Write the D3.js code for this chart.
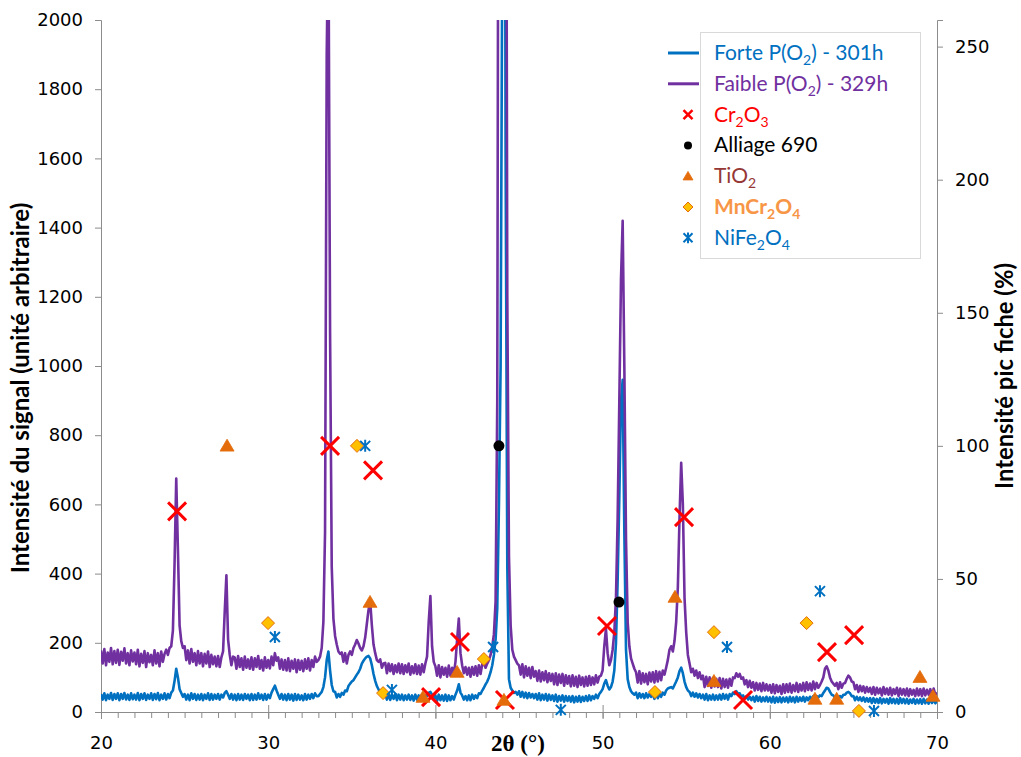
<!DOCTYPE html>
<html><head><meta charset="utf-8">
<script src="https://cdn.jsdelivr.net/npm/d3@7"></script>
<style>body{margin:0;background:#fff}svg{display:block}</style>
</head><body>
<svg id="c" width="1021" height="757"></svg>
<script>
// ---- data ----
const thetaStart = 20, thetaStep = 0.1; // scan grid in 2θ (°)
const forte = [
52,36,54,34,50,38,55,35,52,38,
54,34,52,38,55,36,50,35,54,37,
50,36,55,34,52,38,54,35,50,38,
54,35,52,37,55,34,50,38,54,36,
52,40,56,62,90,125,100,66,55,44,
52,36,50,34,54,38,52,35,50,36,
52,34,50,38,54,35,52,36,50,38,
52,36,50,42,55,60,50,38,52,36,
50,34,52,36,50,35,52,38,50,34,
52,35,50,36,54,38,50,35,52,36,
50,40,56,66,76,62,50,38,52,36,
50,34,52,36,50,33,52,35,50,36,
48,34,52,36,50,38,52,40,54,46,
46,52,58,72,100,150,175,120,78,60,
58,42,52,44,55,50,62,60,75,82,
88,92,100,108,115,125,140,148,155,160,
162,155,135,110,90,75,65,58,52,48,
52,36,54,35,50,38,52,34,50,36,
50,34,48,36,50,35,48,33,50,36,
48,34,50,36,48,46,56,58,50,40,
48,32,50,34,48,33,50,32,48,34,
46,36,50,62,80,56,48,36,46,34,
48,34,50,38,48,40,54,52,62,70,
80,88,100,115,135,165,210,300,600,1000,
2200,3800,1600,420,95,70,62,55,58,50,
60,44,58,42,56,40,55,42,52,40,
52,36,54,34,50,36,52,33,50,35,
48,32,50,30,46,33,48,30,46,32,
45,30,46,28,44,30,46,29,44,32,
46,32,48,34,46,38,50,40,52,58,
66,82,92,76,65,72,88,120,200,380,
620,900,960,520,180,95,72,60,54,50,
56,40,54,42,52,40,54,42,52,44,
52,38,54,40,52,44,56,50,62,68,
70,72,68,78,88,100,118,128,112,88,
72,62,58,46,56,44,54,42,52,40,
50,36,52,34,48,36,50,35,48,36,
50,36,52,38,50,36,52,46,56,52,
60,52,54,44,48,38,46,36,44,34,
44,30,46,32,44,30,42,31,44,30,
42,28,44,27,42,29,43,28,42,30,
42,28,44,30,42,28,44,30,42,32,
44,30,42,34,44,36,46,36,46,42,
48,46,55,62,70,68,58,50,48,40,
48,40,46,42,50,50,56,58,54,46,
46,34,44,34,42,32,42,30,40,30,
40,26,40,27,38,26,40,25,38,27,
38,24,40,26,38,25,38,24,40,26,
38,25,38,24,36,26,38,24,36,25,
37,24,38,25,36,24,38,26,36,25,
32];
const faible = [
178,140,182,135,172,145,185,138,176,142,
180,136,174,148,184,140,170,135,178,146,
172,138,180,132,168,142,176,130,170,144,
165,135,178,140,170,132,175,145,168,180,
165,185,190,235,430,675,470,250,205,185,
190,150,178,140,182,145,170,135,176,140,
170,132,168,140,175,130,165,138,160,132,
162,130,158,175,290,395,210,165,135,160,
158,125,162,130,155,122,160,128,152,125,
158,122,155,130,162,125,150,120,158,128,
150,126,160,135,170,148,158,125,152,122,
150,120,155,118,148,125,152,115,150,122,
148,118,152,125,155,120,150,130,160,145,
150,160,185,260,520,1900,2300,1100,420,270,
220,195,175,168,172,145,170,140,165,175,
165,185,195,208,198,185,178,190,215,255,
295,320,250,195,170,150,145,152,128,140,
142,112,140,118,138,110,135,115,140,112,
138,110,135,115,140,108,132,112,138,110,
134,108,138,115,140,160,260,335,190,145,
132,105,135,100,130,108,128,102,134,105,
128,110,145,210,270,170,135,112,130,108,
128,102,130,108,132,105,135,110,138,140,
128,140,150,165,190,225,320,900,3500,6000,
6000,5000,3500,1200,450,250,180,160,150,140,
135,108,138,100,132,105,128,98,130,102,
118,90,120,88,115,92,118,86,112,90,
110,80,112,78,108,84,110,76,106,82,
104,74,106,76,102,72,105,78,100,74,
102,76,104,78,100,80,106,85,102,105,
120,190,240,170,135,150,180,230,330,560,
900,1250,1420,1000,500,260,190,155,140,125,
115,85,118,82,112,86,110,80,114,88,
115,85,118,88,116,92,120,108,128,150,
180,190,175,205,260,360,560,720,600,330,
230,165,140,115,125,105,120,98,115,95,
105,72,102,75,100,70,98,74,96,72,
98,68,96,72,94,70,96,76,100,98,
112,102,110,96,100,80,92,72,90,70,
86,62,84,64,82,60,84,62,80,62,
78,56,80,54,78,58,76,52,80,56,
80,58,82,56,78,60,84,58,80,62,
84,60,86,64,82,62,88,66,84,70,
78,88,100,125,132,120,100,88,82,76,
84,66,86,70,82,84,96,105,100,88,
86,66,78,58,76,60,74,56,72,58,
70,52,72,50,70,54,68,48,72,52,
68,50,70,48,66,52,70,46,68,50,
66,48,68,46,66,50,64,46,68,48,
66,46,68,48,64,50,66,46,68,50,
56];
// reference card peaks: [2θ, intensity %]
const cr2o3 = [[24.55,75.4],[33.7,100],[36.27,90.8],[39.74,5.6],[41.47,26.3],[44.16,4.5],[50.26,32.3],[54.87,73.2],[58.4,4.5],[63.42,22.5],[65.04,28.9]];
const alliage690 = [[43.8,100],[50.98,41.3]];
const tio2 = [[27.54,100],[36.09,41.3],[39.26,5.6],[41.3,15],[44.1,4.5],[54.33,43.2],[56.66,11.6],[62.7,4.9],[64.0,4.9],[68.98,13.1],[69.76,6.0]];
const mncr2o4 = [[29.99,33.4],[35.31,100],[36.87,7.1],[42.9,19.9],[53.13,7.5],[56.66,30],[62.2,33.4],[65.33,0.4]];
const nife2o4 = [[30.4,28.2],[35.8,100],[37.4,8.3],[43.45,24.4],[47.5,0.8],[57.44,24.4],[63.0,45.4],[66.23,0.4]];
const xTicks = [20,30,40,50,60,70];
const yLeftTicks = [0,200,400,600,800,1000,1200,1400,1600,1800,2000];
const yRightTicks = [0,50,100,150,200,250];

// ---- drawing ----
const svg = d3.select('#c');
const L=101,R=937,T=20,B=712;
const x = d3.scaleLinear().domain([20,70]).range([L,R]);
const yL = d3.scaleLinear().domain([0,2000]).range([B,T]);
const yR = d3.scaleLinear().domain([0,260]).range([B,T]);
const axisCol = '#8C8C8C';
const tickFont = '"DejaVu Sans", Verdana, sans-serif';
const calibri = 'Lato, "Open Sans", sans-serif';

svg.append('rect').attr('width',1021).attr('height',757).attr('fill','#fff');
svg.append('clipPath').attr('id','clip').append('rect')
  .attr('x',L).attr('y',T).attr('width',R-L).attr('height',B-T);

function styleAxis(g){
  g.select('.domain').attr('stroke',axisCol);
  g.selectAll('.tick line').attr('stroke',axisCol);
  g.selectAll('.tick text').attr('font-family',tickFont).attr('font-size',18).attr('fill','#000');
}
const gxm = svg.append('g').attr('transform',`translate(0,${B})`)
  .call(d3.axisBottom(x).tickValues(d3.range(20,71,1)).tickSize(6).tickFormat(''));
styleAxis(gxm);
const gx = svg.append('g').attr('transform',`translate(0,${B})`)
  .call(d3.axisBottom(x).tickValues(xTicks).tickSize(7).tickPadding(17).tickFormat(d3.format('d')));
styleAxis(gx);
gx.selectAll('.tick line').attr('y1',-7);
const gy = svg.append('g').attr('transform',`translate(${L},0)`)
  .call(d3.axisLeft(yL).tickValues(yLeftTicks).tickSize(6).tickPadding(12).tickFormat(d3.format('d')));
styleAxis(gy);
const gyr = svg.append('g').attr('transform',`translate(${R},0)`)
  .call(d3.axisRight(yR).tickValues(yRightTicks).tickSize(6).tickPadding(12).tickFormat(d3.format('d')));
styleAxis(gyr);

// titles (font size fitted to the reference text length)
function fitTitle(tx, ty, str, target){
  const t = svg.append('text').attr('transform',`translate(${tx},${ty}) rotate(-90)`).attr('text-anchor','middle')
    .attr('font-family',calibri).attr('font-weight','bold').attr('font-size',20).text(str);
  const w = t.node().getComputedTextLength();
  if (w>0) t.attr('font-size', Math.min(24, 20*target/w));
}
fitTitle(29, 388, 'Intensité du signal (unité arbitraire)', 372);
fitTitle(1013, 376, 'Intensité pic fiche (%)', 226);
svg.append('text').attr('x',518).attr('y',751).attr('text-anchor','middle')
  .attr('font-family','"Liberation Serif", "Times New Roman", serif').attr('font-weight','bold').attr('font-size',23).text('2θ (°)');

// spectra
const line = d3.line().x((d,i)=>x(thetaStart+i*thetaStep)).y(d=>yL(d));
const plot = svg.append('g').attr('clip-path','url(#clip)');
plot.append('path').datum(forte).attr('d',line).attr('fill','none').attr('stroke','#0070C0').attr('stroke-width',2.6).attr('stroke-linejoin','round');
plot.append('path').datum(faible).attr('d',line).attr('fill','none').attr('stroke','#7030A0').attr('stroke-width',2.6).attr('stroke-linejoin','round');

// marker shapes
const shapes = {
  cross: s=>`M${-s},${-s}L${s},${s}M${-s},${s}L${s},${-s}`,
  star: s=>`M${-s},${-s}L${s},${s}M${-s},${s}L${s},${-s}M0,${-s*1.2}L0,${s*1.2}`,
  tri: s=>`M0,${-s*0.95}L${s},${s*0.75}L${-s},${s*0.75}Z`,
  diamond: s=>`M0,${-s}L${s},0L0,${s}L${-s},0Z`
};
function drawCross(g,s,sw){g.append('path').attr('d',shapes.cross(s)).attr('stroke','#FF0000').attr('stroke-width',sw).attr('fill','none');}
function drawCircle(g,r){g.append('circle').attr('r',r).attr('fill','#000');}
function drawTri(g,s){g.append('path').attr('d',shapes.tri(s)).attr('fill','#E46C0A').attr('stroke','#E46C0A').attr('stroke-width',0.8);}
function drawDiamond(g,s){g.append('path').attr('d',shapes.diamond(s)).attr('fill','#FFC000').attr('stroke','#E46C0A').attr('stroke-width',1);}
function drawStar(g,s,sw){g.append('path').attr('d',shapes.star(s)).attr('stroke','#0070C0').attr('stroke-width',sw).attr('fill','none');}

function series(data, fn){
  svg.append('g').selectAll('g').data(data).join('g')
    .attr('transform',d=>`translate(${x(d[0])},${yR(d[1])})`)
    .each(function(){fn(d3.select(this));});
}
series(cr2o3, g=>drawCross(g,9,3));
series(alliage690, g=>drawCircle(g,5.5));
series(tio2, g=>drawTri(g,7));
series(mncr2o4, g=>drawDiamond(g,6.5));
series(nife2o4, g=>drawStar(g,5,2));

// legend
const lg = svg.append('g');
lg.append('rect').attr('x',700.5).attr('y',32.5).attr('width',220).attr('height',226)
  .attr('fill','#fff').attr('stroke','#D9D9D9');
const items = [
  {key:'line', col:'#0070C0', color:'#0070C0', parts:[['Forte P(O'],['2','sub'],[') - 301h']]},
  {key:'line', col:'#7030A0', color:'#7030A0', parts:[['Faible P(O'],['2','sub'],[') - 329h']]},
  {key:'cross', color:'#FF0000', parts:[['Cr'],['2','sub'],['O'],['3','sub']]},
  {key:'circle', color:'#000000', parts:[['Alliage 690']]},
  {key:'tri', color:'#953735', parts:[['TiO'],['2','sub']]},
  {key:'diamond', color:'#F79646', bold:true, parts:[['MnCr'],['2','sub'],['O'],['4','sub']]},
  {key:'star', color:'#0070C0', parts:[['NiFe'],['2','sub'],['O'],['4','sub']]}
];
items.forEach((it,i)=>{
  const cy = 53 + i*30.8;
  const g = lg.append('g').attr('transform',`translate(688,${cy})`);
  if(it.key==='line') g.append('line').attr('x1',-20).attr('x2',11).attr('stroke',it.col).attr('stroke-width',3);
  if(it.key==='cross') drawCross(g,4.5,2.5);
  if(it.key==='circle') drawCircle(g,4);
  if(it.key==='tri') drawTri(g,5);
  if(it.key==='diamond') drawDiamond(g,5);
  if(it.key==='star') drawStar(g,4.5,2);
  const t = lg.append('text').attr('x',714).attr('y',cy+7).attr('font-family',calibri)
    .attr('font-size',21).attr('fill',it.color).attr('font-weight',it.bold?'bold':'normal');
  it.parts.forEach(p=>{
    const ts = t.append('tspan').text(p[0]);
    if(p[1]==='sub') ts.attr('font-size',14).attr('dy',5);
    else if(t.selectAll('tspan').size()>1) ts.attr('dy',-5);
  });
});
</script>
</body></html>
